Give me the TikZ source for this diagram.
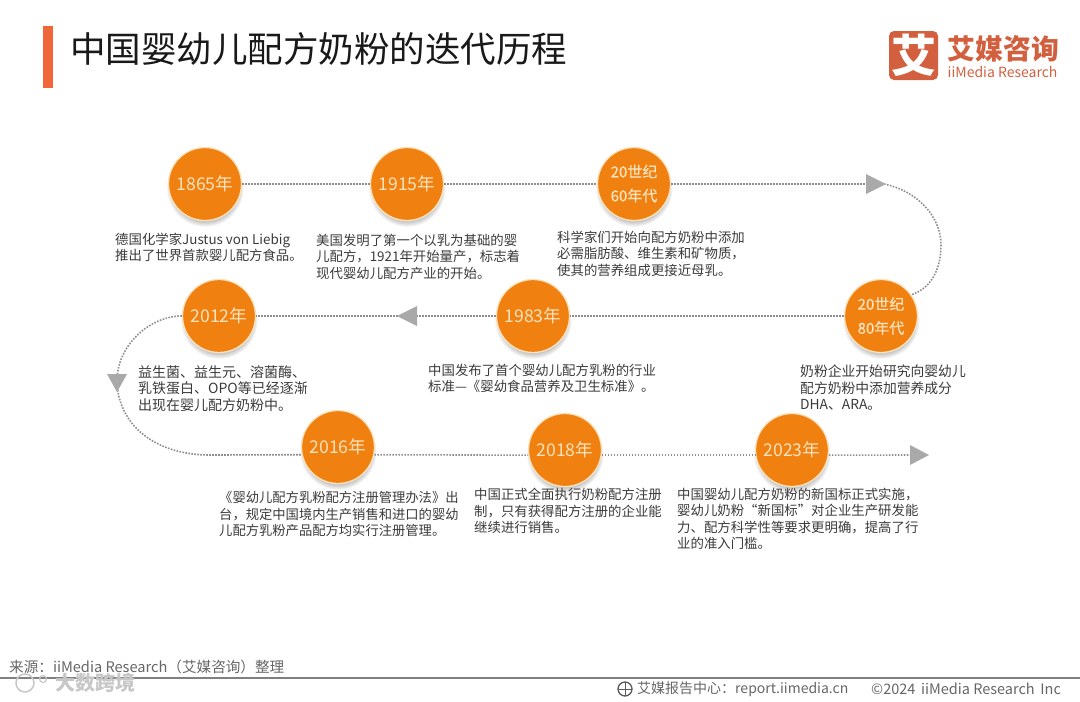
\documentclass[tikz,border=0pt]{standalone}
\usepackage{fontspec}
\setmainfont{Noto Sans CJK SC}
\newfontfamily\semiheavy[FakeBold=0.6]{Noto Sans CJK SC}
\usetikzlibrary{shadows,arrows.meta}
\definecolor{orangeC}{HTML}{F0800F}
\definecolor{ringC}{HTML}{FCE3BE}
\definecolor{barC}{HTML}{F0653A}
\definecolor{logoC}{HTML}{D2603F}
\definecolor{dotC}{HTML}{8E8E8E}
\definecolor{headC}{HTML}{A9A9A9}
\definecolor{txtC}{HTML}{3A3A3A}
\tikzset{
  yearnode/.style={circle,minimum size=73pt,inner sep=0pt,fill=orangeC,draw=ringC,line width=1.3pt,
    text=ringC,font=\fontsize{17.6}{27}\selectfont,align=center,
    circular drop shadow={shadow xshift=0pt,shadow yshift=-4pt,shadow scale=1.06,opacity=.45}},
  twoline/.style={font=\fontsize{15}{24}\selectfont\semiheavy},
  desc/.style={anchor=north west,inner sep=0pt,align=left,text=txtC,font=\fontsize{13.4}{16.6}\selectfont},
  link/.style={draw=dotC,line width=1.6pt,dash pattern=on 1.6pt off 1.4pt},
  headtip/.style={fill=headC,draw=none},
  foot/.style={anchor=west,inner sep=0pt,text=black!60,font=\fontsize{14}{15}\selectfont}
}
\begin{document}
\begin{tikzpicture}[x=1pt,y=-1pt]
\useasboundingbox (0,0) rectangle (1080,702);
% title
\fill[barC] (43,26) rectangle (53,88);
\node[anchor=west,inner sep=0pt,text=black!90,font=\fontsize{35.5}{40}\selectfont] (title) at (70,49) {中国婴幼儿配方奶粉的迭代历程};
% logo
\fill[logoC,rounded corners=5pt] (889,31) rectangle (938,80);
\node[text=white,inner sep=0pt,font=\fontsize{45}{45}\selectfont\bfseries] (logomark) at (913.5,55) {艾};
\node[anchor=west,inner sep=0pt,align=left,text=logoC,font=\fontsize{14}{18}\selectfont] (logotext) at (947.5,57) {{\fontsize{27.8}{18}\selectfont\bfseries 艾媒咨询}\\iiMedia Research};
% anchors of free arrow ends
\coordinate (tipA) at (868,184);
\coordinate (tipB) at (416,316);
\coordinate (tipC) at (117,381);
\coordinate (tipD) at (910,455);
% circles
\node[yearnode] (y1865) at (205,184) {1865年};
\node[yearnode] (y1915) at (407,184) {1915年};
\node[yearnode,twoline] (y1960) at (634,184) {\raisebox{2pt}{20世纪}\\\raisebox{2pt}{60年代}};
\node[yearnode,twoline] (y1980) at (881,316) {20世纪\\80年代};
\node[yearnode] (y1983) at (533,316) {1983年};
\node[yearnode] (y2012) at (219,316) {2012年};
\node[yearnode] (y2016) at (338,447) {2016年};
\node[yearnode] (y2018) at (565,450) {2018年};
\node[yearnode] (y2023) at (792,450) {2023年};
% connectors
\draw[link] (y1865) -- (y1915);
\draw[link] (y1915) -- (y1960);
\draw[link] (y1960) -- (tipA);
\draw[link] (tipA) ++(16,0) .. controls (915,190) and (941,215) .. (941,245) .. controls (941,268) and (932,288) .. (y1980.35);
\draw[link] (y1980) -- (y1983);
\draw[link] (y1983) -- (tipB);
\draw[link] (tipB) -- (y2012);
\draw[link] (y2012.180) .. controls (150,316) and (117,345) .. (tipC);
\draw[link] (tipC) .. controls (118,425) and (155,455) .. (210,455) -- (y2016.192);
\draw[link] (y2016.348) -- (y2018.188);
\draw[link] (y2018.352) -- (y2023.188);
\draw[link] (y2023.352) -- (tipD);
% arrow heads
\fill[headtip] (866,174) -- (886,184) -- (866,194) -- cycle;
\fill[headtip] (417,306) -- (397,316) -- (417,326) -- cycle;
\fill[headtip] (107,374) -- (117,392) -- (127,374) -- cycle;
\fill[headtip] (910,445) -- (929,455) -- (910,465) -- cycle;
% descriptions
\node[desc] (d1) at (115,232.5) {德国化学家Justus von Liebig\\推出了世界首款婴儿配方食品。};
\node[desc] (d2) at (316,233.5) {美国发明了第一个以乳为基础的婴\\儿配方，1921年开始量产，标志着\\现代婴幼儿配方产业的开始。};
\node[desc] (d3) at (557,230.5) {科学家们开始向配方奶粉中添加\\必需脂肪酸、维生素和矿物质，\\使其的营养组成更接近母乳。};
\node[desc,font=\fontsize{13.8}{16.6}\selectfont] (d4) at (800,364.5) {奶粉企业开始研究向婴幼儿\\配方奶粉中添加营养成分\\DHA、ARA。};
\node[desc] (d5) at (428,363.5) {中国发布了首个婴幼儿配方乳粉的行业\\标准—《婴幼食品营养及卫生标准》。};
\node[desc,font=\fontsize{14}{16.6}\selectfont] (d6) at (138,365) {益生菌、益生元、溶菌酶、\\乳铁蛋白、OPO等已经逐渐\\出现在婴儿配方奶粉中。};
\node[desc,font=\fontsize{13.3}{16.6}\selectfont] (d7) at (219,491) {《婴幼儿配方乳粉配方注册管理办法》出\\台，规定中国境内生产销售和进口的婴幼\\儿配方乳粉产品配方均实行注册管理。};
\node[desc] (d8) at (474,488) {中国正式全面执行奶粉配方注册\\制，只有获得配方注册的企业能\\继续进行销售。};
\node[desc] (d9) at (677,487.5) {中国婴幼儿配方奶粉的新国标正式实施，\\婴幼儿奶粉“新国标”对企业生产研发能\\力、配方科学性等要求更明确，提高了行\\业的准入门槛。};
% footer
\draw[black!50,line width=1.6pt] (0,678) -- (1080,678);
\node[foot,font=\fontsize{14.6}{15}\selectfont] (src) at (9,667) {来源：iiMedia Research（艾媒咨询）整理};
\node[anchor=west,inner sep=0pt,text=black!22,font=\fontsize{20}{20}\selectfont\bfseries] (wm) at (55,683) {大数跨境};
\draw[black!22,line width=1.5pt] (25,683) circle (9pt);
\draw[black!22,line width=1.2pt] (43,679) circle (3.5pt);
\draw[black!65,line width=1.3pt] (625,689) circle (7pt);
\draw[black!65,line width=.8pt] (618,689) -- (632,689) (625,682) -- (625,696);
\node[foot] (rep) at (637,689) {艾媒报告中心：report.iimedia.cn};
\node[foot,font=\fontsize{14.5}{15}\selectfont] (copy) at (871,689) {©2024 \,iiMedia Research \,Inc};
\end{tikzpicture}
\end{document}
